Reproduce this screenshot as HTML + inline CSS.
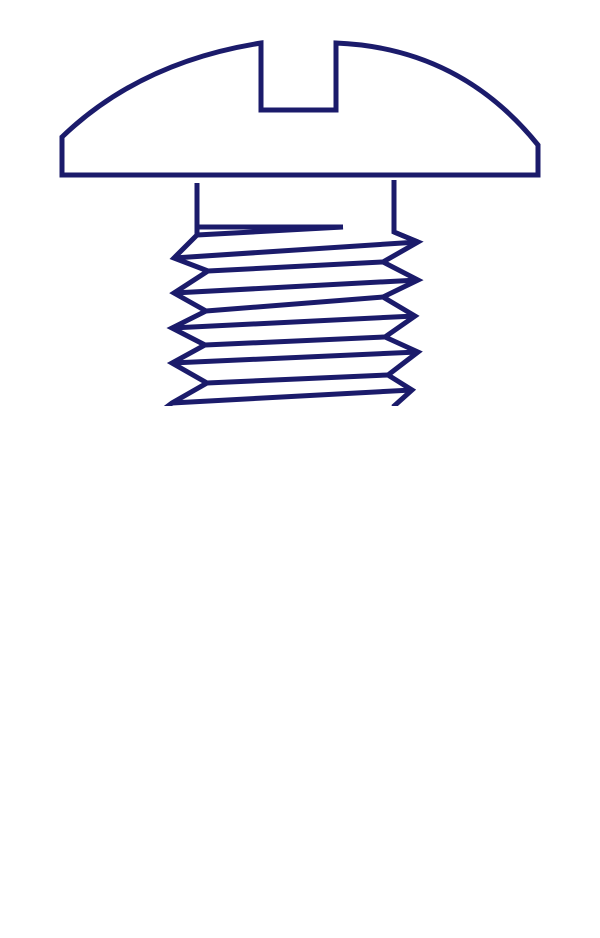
<!DOCTYPE html>
<html><head><meta charset="utf-8"><style>html,body{margin:0;padding:0;background:#fff;width:600px;height:938px;overflow:hidden}</style></head>
<body>
<svg width="600" height="938" viewBox="0 0 600 938" xmlns="http://www.w3.org/2000/svg">
<defs><clipPath id="c"><rect x="0" y="0" width="600" height="406"/></clipPath></defs>
<g fill="none" stroke="#1b1b6b" stroke-width="5" stroke-linejoin="miter">
<path d="M62,137 Q140,62 261,43 L261,110 L336,110 L336,43 Q460,48 538,145 L538,175 L62,175 Z"/>
<line x1="197" y1="183" x2="197" y2="236"/>
<line x1="197" y1="227" x2="343" y2="227"/>
<line x1="197" y1="235" x2="343" y2="227"/>
<polyline points="394,180 394,232 418,242"/>
<g clip-path="url(#c)">
<polyline points="197,235 174,258 208,271 174,293 206,311 172,328 205,345 172,363 207,383 172,403 160,412"/>
<polyline points="394,232 418,242 383,262 418,280 383,297 415,316 385,337 418,352 388,375 412,390 393,407"/>
<line x1="174" y1="258" x2="418" y2="242"/>
<line x1="174" y1="293" x2="418" y2="280"/>
<line x1="172" y1="328" x2="415" y2="316"/>
<line x1="172" y1="363" x2="418" y2="352"/>
<line x1="172" y1="403" x2="412" y2="390"/>
<line x1="208" y1="271" x2="383" y2="262"/>
<line x1="206" y1="311" x2="383" y2="297"/>
<line x1="205" y1="345" x2="385" y2="337"/>
<line x1="207" y1="383" x2="388" y2="375"/>
</g>
</g>
</svg>
</body></html>
